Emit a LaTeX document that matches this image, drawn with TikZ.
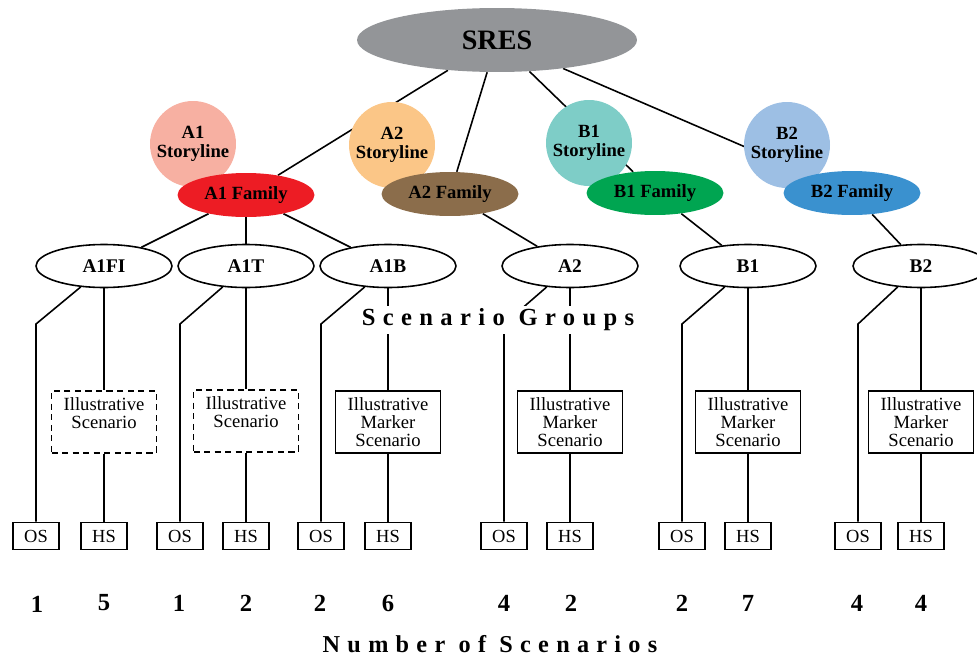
\documentclass[tikz,border=0pt]{standalone}
\usepackage{fontspec}
\setmainfont{Liberation Serif}
\newfontfamily\spacedfont[LetterSpace=30]{Liberation Serif}
\usepackage{tikz}
\usetikzlibrary{shapes.geometric, backgrounds}
\definecolor{sresgray}{HTML}{939598}
\definecolor{aonelight}{HTML}{F7B0A2}
\definecolor{aonefam}{HTML}{ED1C24}
\definecolor{atwolight}{HTML}{FBC687}
\definecolor{atwofam}{HTML}{8B6D4B}
\definecolor{bonelight}{HTML}{7ECDC7}
\definecolor{bonefam}{HTML}{00A551}
\definecolor{btwolight}{HTML}{9DBFE4}
\definecolor{btwofam}{HTML}{3A91CF}
\tikzset{
	rootnode/.style={ellipse, fill=sresgray, minimum width=5.6cm, minimum height=1.28cm, inner sep=0pt, font=\fontsize{16}{16}\selectfont\bfseries},
	storynode/.style={circle, fill=#1, minimum size=1.72cm, inner sep=0pt, align=center, font=\fontsize{10.6}{10.8}\selectfont\bfseries},
	famnode/.style={ellipse, fill=#1, minimum width=2.74cm, minimum height=0.88cm, inner sep=0pt, font=\fontsize{10.6}{11}\selectfont\bfseries},
	grpnode/.style={ellipse, draw, fill=white, line width=0.9pt, minimum width=2.72cm, minimum height=0.86cm, inner sep=0pt, font=\fontsize{11}{11}\selectfont\bfseries},
	scenbox/.style={draw, fill=white, line width=0.9pt, minimum width=2.1cm, minimum height=1.24cm, inner sep=0pt, align=center, font=\fontsize{10.6}{10.4}\selectfont},
	illubox/.style={scenbox, dash pattern=on 3.5pt off 2.5pt},
	leafbox/.style={draw, fill=white, line width=0.9pt, minimum width=0.92cm, minimum height=0.54cm, inner sep=0pt, font=\fontsize{10.5}{10.5}\selectfont},
	countnum/.style={font=\fontsize{14}{14}\selectfont\bfseries},
}

\begin{document}
\begin{tikzpicture}[
		x=0.02cm, y=-0.02cm,
		tree/.style={line width=0.9pt},
		spacedlabel/.style={fill=white, inner sep=1.5pt, font=\spacedfont\bfseries\fontsize{#1}{#1}\selectfont}
	]
	\useasboundingbox (0,0) rectangle (977,659);

	% Root
	\node[rootnode] (sres) at (497,40) {SRES};

	% Storylines and families
	\node[storynode=aonelight] (sA1) at (193,144) {A1\\Storyline};
	\node[storynode=atwolight] (sA2) at (392,145) {A2\\Storyline};
	\node[storynode=bonelight] (sB1) at (589,143) {B1\\Storyline};
	\node[storynode=btwolight] (sB2) at (787,145) {B2\\Storyline};
	\node[famnode=aonefam] (fA1) at (246,195) {A1 Family};
	\node[famnode=atwofam] (fA2) at (450,194) {A2 Family};
	\node[famnode=bonefam] (fB1) at (655,193) {B1 Family};
	\node[famnode=btwofam] (fB2) at (852,193) {B2 Family};

	% Scenario groups
	\node[grpnode] (gA1FI) at (104,266) {A1FI};
	\node[grpnode] (gA1T) at (246,266) {A1T};
	\node[grpnode] (gA1B) at (388,266) {A1B};
	\node[grpnode] (gA2) at (570,266) {A2};
	\node[grpnode] (gB1) at (748,266) {B1};
	\node[grpnode] (gB2) at (921,266) {B2};
	\node[spacedlabel=14] (grplabel) at (498,320) {Scenario Groups};
	\coordinate (bend) at (0,324);

	% Illustrative scenarios
	\node[illubox] (scA1FI) at (104,422) {Illustrative\\Scenario\\\mbox{}};
	\node[illubox] (scA1T) at (246,421) {Illustrative\\Scenario\\\mbox{}};
	\node[scenbox] (scA1B) at (388,422) {Illustrative\\Marker\\Scenario};
	\node[scenbox] (scA2) at (570,422) {Illustrative\\Marker\\Scenario};
	\node[scenbox] (scB1) at (748,422) {Illustrative\\Marker\\Scenario};
	\node[scenbox] (scB2) at (921,422) {Illustrative\\Marker\\Scenario};

	% OS / HS boxes
	\node[leafbox] (osA1FI) at (36,536) {OS};
	\node[leafbox] (hsA1FI) at (104,536) {HS};
	\node[leafbox] (osA1T) at (180,536) {OS};
	\node[leafbox] (hsA1T) at (246,536) {HS};
	\node[leafbox] (osA1B) at (321,536) {OS};
	\node[leafbox] (hsA1B) at (388,536) {HS};
	\node[leafbox] (osA2) at (504,536) {OS};
	\node[leafbox] (hsA2) at (570,536) {HS};
	\node[leafbox] (osB1) at (682,536) {OS};
	\node[leafbox] (hsB1) at (748,536) {HS};
	\node[leafbox] (osB2) at (858,536) {OS};
	\node[leafbox] (hsB2) at (921,536) {HS};

	% Counts
	\node[countnum] (nA1FIos) at (37,604) {1};
	\node[countnum] (nA1FIhs) at (104,603) {5};
	\node[countnum] (nA1Tos) at (179,603) {1};
	\node[countnum] (nA1Ths) at (246,603) {2};
	\node[countnum] (nA1Bos) at (320,603) {2};
	\node[countnum] (nA1Bhs) at (388,603) {6};
	\node[countnum] (nA2os) at (504,603) {4};
	\node[countnum] (nA2hs) at (571,603) {2};
	\node[countnum] (nB1os) at (682,603) {2};
	\node[countnum] (nB1hs) at (748,603) {7};
	\node[countnum] (nB2os) at (857,603) {4};
	\node[countnum] (nB2hs) at (921,603) {4};
	\node[spacedlabel=13.8] (numlabel) at (490,644) {Number of Scenarios};

	% Connectors
	\begin{scope}[on background layer]
		\draw[tree] (sres) -- (fA1);
		\draw[tree] (sres) -- (fA2);
		\draw[tree] (sres) -- (fB1);
		\draw[tree] (sres) -- (fB2);
		\draw[tree] (fA1) -- (gA1FI);
		\draw[tree] (fA1) -- (gA1T);
		\draw[tree] (fA1) -- (gA1B);
		\draw[tree] (fA2) -- (gA2);
		\draw[tree] (fB1) -- (gB1);
		\draw[tree] (fB2) -- (gB2);

		\draw[tree] (gA1FI.222) -- (osA1FI |- bend) -- (osA1FI);
		\draw[tree] (gA1T.222) -- (osA1T |- bend) -- (osA1T);
		\draw[tree] (gA1B.222) -- (osA1B |- bend) -- (osA1B);
		\draw[tree] (gA2.222) -- (osA2 |- bend) -- (osA2);
		\draw[tree] (gB1.222) -- (osB1 |- bend) -- (osB1);
		\draw[tree] (gB2.222) -- (osB2 |- bend) -- (osB2);

		\draw[tree] (gA1FI) -- (scA1FI) -- (hsA1FI);
		\draw[tree] (gA1T) -- (scA1T) -- (hsA1T);
		\draw[tree] (gA1B) -- (scA1B) -- (hsA1B);
		\draw[tree] (gA2) -- (scA2) -- (hsA2);
		\draw[tree] (gB1) -- (scB1) -- (hsB1);
		\draw[tree] (gB2) -- (scB2) -- (hsB2);
	\end{scope}
\end{tikzpicture}
\end{document}
